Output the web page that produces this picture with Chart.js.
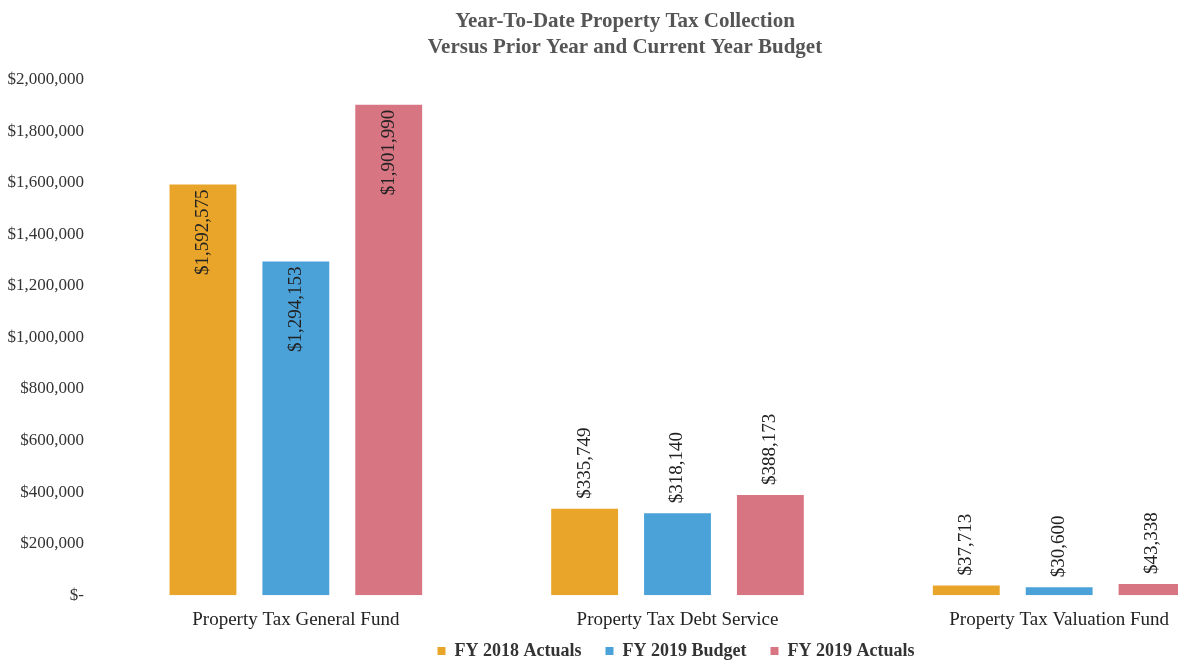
<!DOCTYPE html>
<html>
<head>
<meta charset="utf-8">
<script src="https://cdn.jsdelivr.net/npm/chart.js@4"></script>
<style>
    html, body { margin: 0; padding: 0; background: #fff; overflow: hidden; }
    #wrap { width: 1262px; height: 670px; }
</style>
</head>
<body>
<div id="wrap"><canvas id="taxChart" width="1262" height="670"></canvas></div>
<script>
const categories = ['Property Tax General Fund', 'Property Tax Debt Service', 'Property Tax Valuation Fund'];
const fy2018Actuals = [1592575, 335749, 37713];
const fy2019Budget = [1294153, 318140, 30600];
const fy2019Actuals = [1901990, 388173, 43338];
const yTicks = [0, 200000, 400000, 600000, 800000, 1000000, 1200000, 1400000, 1600000, 1800000, 2000000];

const serif = '"Liberation Serif", "DejaVu Serif", serif';

function money(v) {
    if (v === 0) return '$-';
    return '$' + Number(v).toLocaleString('en-US');
}

// rotated value labels: inside the tall bars, above the short ones
const barLabels = {
    id: 'barLabels',
    afterDatasetsDraw(chart) {
        const ctx = chart.ctx;
        ctx.save();
        ctx.font = '19px ' + serif;
        ctx.fillStyle = '#222';
        ctx.textBaseline = 'middle';
        chart.data.datasets.forEach((ds, di) => {
            const meta = chart.getDatasetMeta(di);
            meta.data.forEach((bar, i) => {
                const v = ds.data[i];
                ctx.save();
                if (v > 1000000) {
                    ctx.translate(bar.x, bar.y + 5);
                    ctx.rotate(-Math.PI / 2);
                    ctx.textAlign = 'right';
                } else {
                    ctx.translate(bar.x, bar.y - 10);
                    ctx.rotate(-Math.PI / 2);
                    ctx.textAlign = 'left';
                }
                ctx.fillText(money(v), 0, 0);
                ctx.restore();
            });
        });
        ctx.restore();
    }
};

// the original legend sits a bit right of centre
const legendShift = {
    id: 'legendShift',
    afterLayout(chart) {
        chart.legend.left += 60;
        chart.legend.right += 60;
    }
};

new Chart(document.getElementById('taxChart').getContext('2d'), {
    type: 'bar',
    data: {
        labels: categories,
        datasets: [
            { label: 'FY 2018 Actuals', data: fy2018Actuals, backgroundColor: '#E9A52A' },
            { label: 'FY 2019 Budget', data: fy2019Budget, backgroundColor: '#4BA2D9' },
            { label: 'FY 2019 Actuals', data: fy2019Actuals, backgroundColor: '#D77582' }
        ]
    },
    options: {
        responsive: false,
        animation: false,
        devicePixelRatio: 1,
        categoryPercentage: 0.73,
        barPercentage: 0.72,
        layout: { padding: { left: 0, right: 12, top: 4, bottom: 0 } },
        plugins: {
            title: {
                display: true,
                text: ['Year-To-Date Property Tax Collection', 'Versus Prior Year and Current Year Budget'],
                color: '#555',
                font: { family: serif, size: 21, weight: 'bold', lineHeight: 1.25 },
                padding: { top: 4, bottom: 19 }
            },
            legend: {
                position: 'bottom',
                labels: {
                    color: '#333',
                    boxWidth: 8,
                    boxHeight: 8,
                    padding: 6,
                    font: { family: serif, size: 18, weight: 'bold' },
                    // extra trailing space keeps the items spread apart
                    generateLabels: (chart) => Chart.defaults.plugins.legend.labels.generateLabels(chart)
                        .map((item) => ({ ...item, text: item.text + '\u2003' }))
                }
            },
            tooltip: { enabled: false }
        },
        scales: {
            x: {
                grid: { display: false },
                border: { display: false },
                ticks: { color: '#222', font: { family: serif, size: 19 }, padding: 5 }
            },
            y: {
                min: 0,
                max: 2000000,
                afterFit: (scale) => { scale.width = 105; },
                afterBuildTicks: (scale) => { scale.ticks = yTicks.map((v) => ({ value: v })); },
                grid: { display: false },
                border: { display: false },
                ticks: {
                    color: '#333',
                    padding: 13,
                    font: { family: serif, size: 17 },
                    callback: (value) => money(value)
                }
            }
        }
    },
    plugins: [barLabels, legendShift]
});
</script>
</body>
</html>
